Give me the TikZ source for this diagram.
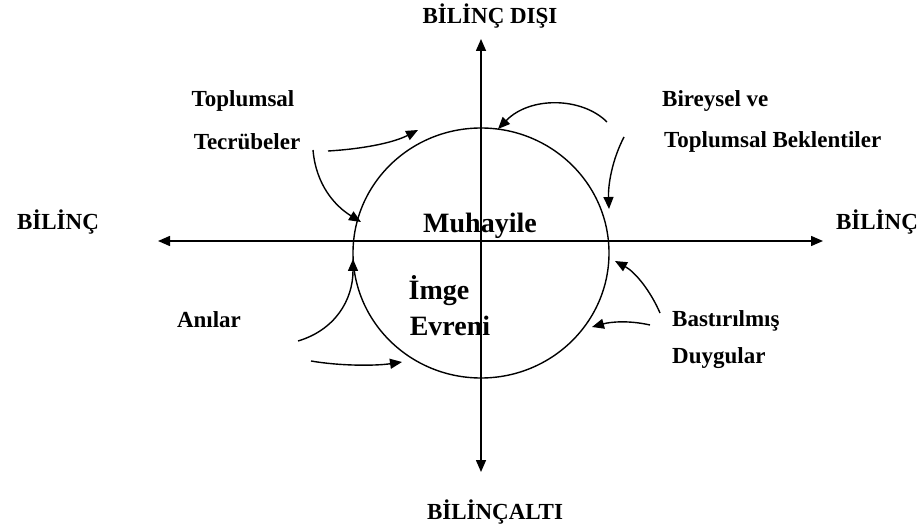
\documentclass[tikz,border=0pt]{standalone}
\usepackage{fontspec}
\setmainfont{Liberation Serif}
\usetikzlibrary{arrows.meta,shapes.geometric}
\begin{document}
\begin{tikzpicture}[x=1pt,y=-1pt,
  lbl/.style={font=\fontsize{23}{26}\selectfont\bfseries, inner sep=0pt},
  biglbl/.style={font=\fontsize{28}{32}\selectfont\bfseries, inner sep=0pt},
  axis/.style={line width=1.5pt, {Triangle[length=12pt,width=10pt]}-{Triangle[length=12pt,width=10pt]}},
  flow/.style={line width=1.4pt, -{Triangle[length=12pt,width=10pt]}},
  ring/.style={ellipse, draw, line width=1.4pt, minimum width=256pt, minimum height=250pt, inner sep=0pt}]
\useasboundingbox (0,0) rectangle (923,529);
% axes
\coordinate (L) at (158,241);
\coordinate (R) at (823,241);
\coordinate (T) at (481,39);
\coordinate (B) at (481,472);
\draw[axis] (L) -- (R);
\draw[axis] (T) -- (B);
% circle
\node[ring] (circ) at (481,253) {};
% labels
\node[lbl] (top) at (490,16) {BİLİNÇ DIŞI};
\node[lbl] (bot) at (495,512) {BİLİNÇALTI};
\node[lbl] (left) at (58,222) {BİLİNÇ};
\node[lbl] (right) at (877,222) {BİLİNÇ};
\node[lbl] (t1) at (243,101) {Toplumsal};
\node[lbl] (t2) at (247,142) {Tecrübeler};
\node[lbl, anchor=west] (b1) at (662,101) {Bireysel ve};
\node[lbl, anchor=west] (b2) at (664,142) {Toplumsal Beklentiler};
\node[biglbl] (muh) at (480,226) {Muhayile};
\node[biglbl] (imge) at (439,291) {İmge};
\node[biglbl] (evr) at (450,326) {Evreni};
\node[lbl] (ani) at (209,320) {Anılar};
\node[lbl, anchor=west] (bas) at (672,321) {Bastırılmış};
\node[lbl, anchor=west] (duy) at (672,358) {Duygular};
% arrow ends
\coordinate (a1s) at (328,151); \coordinate (a1e) at (418,130);
\coordinate (a2s) at (313,150); \coordinate (a2e) at (361,222);
\coordinate (a3s) at (607,122); \coordinate (a3e) at (498,129);
\coordinate (a4s) at (624,137); \coordinate (a4e) at (609,209);
\coordinate (a5s) at (298,341); \coordinate (a5e) at (353,259);
\coordinate (a6s) at (311,361); \coordinate (a6e) at (402,362);
\coordinate (a7s) at (660,313); \coordinate (a7e) at (615,261);
\coordinate (a8s) at (650,325); \coordinate (a8e) at (592,327);
\draw[flow] (a1s) .. controls (362,149) and (393,143) .. (a1e);
\draw[flow] (a2s) .. controls (316,185) and (335,206) .. (a2e);
\draw[flow] (a3s) .. controls (582,97) and (530,96) .. (a3e);
\draw[flow] (a4s) .. controls (612,160) and (608,185) .. (a4e);
\draw[flow] (a5s) .. controls (335,330) and (353,300) .. (a5e);
\draw[flow] (a6s) .. controls (340,366) and (375,366) .. (a6e);
\draw[flow] (a7s) .. controls (650,290) and (635,272) .. (a7e);
\draw[flow] (a8s) .. controls (628,320) and (610,322) .. (a8e);
\end{tikzpicture}
\end{document}
